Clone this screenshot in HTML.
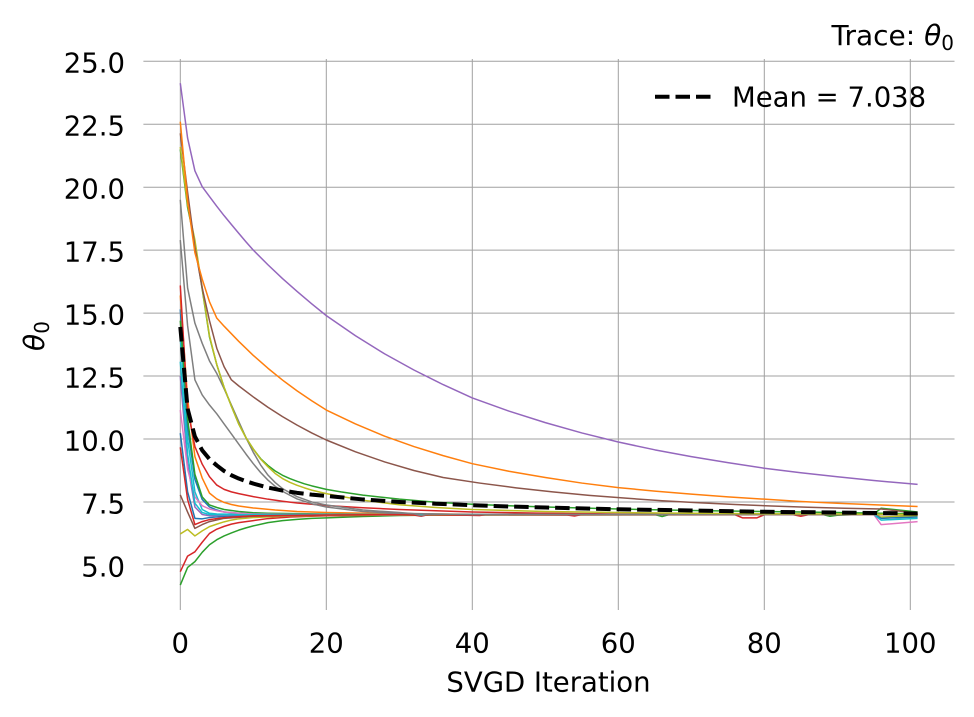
<!DOCTYPE html>
<html>
<head>
<meta charset="utf-8">
<style>
  html, body { margin: 0; padding: 0; background: #ffffff; }
  svg { display: block; }
  text { font-family: "DejaVu Sans", "Liberation Sans", sans-serif; fill: #000; }
</style>
</head>
<body>
<svg width="974" height="717" viewBox="0 0 974 717" xmlns="http://www.w3.org/2000/svg">
  <rect x="0" y="0" width="974" height="717" fill="#ffffff"/>

  <!-- grid -->
  <g stroke="#a0a0a0" stroke-width="1" fill="none">
    <line x1="143.4" y1="564.9" x2="954.5" y2="564.9"/>
    <line x1="143.4" y1="502.0" x2="954.5" y2="502.0"/>
    <line x1="143.4" y1="439.0" x2="954.5" y2="439.0"/>
    <line x1="143.4" y1="376.05" x2="954.5" y2="376.05"/>
    <line x1="143.4" y1="313.1" x2="954.5" y2="313.1"/>
    <line x1="143.4" y1="250.15" x2="954.5" y2="250.15"/>
    <line x1="143.4" y1="187.2" x2="954.5" y2="187.2"/>
    <line x1="143.4" y1="124.25" x2="954.5" y2="124.25"/>
    <line x1="143.4" y1="61.3" x2="954.5" y2="61.3"/>
    <line x1="180.3" y1="59" x2="180.3" y2="610"/>
    <line x1="326.3" y1="59" x2="326.3" y2="610"/>
    <line x1="472.3" y1="59" x2="472.3" y2="610"/>
    <line x1="618.3" y1="59" x2="618.3" y2="610"/>
    <line x1="764.3" y1="59" x2="764.3" y2="610"/>
    <line x1="910.3" y1="59" x2="910.3" y2="610"/>
  </g>

  <!-- particle traces (data coordinates) -->
  <g transform="matrix(7.3 0 0 -25.18 180.3 690.8)" fill="none" stroke-width="1.5" stroke-linejoin="round">
    <!-- lower particles -->
    <polyline vector-effect="non-scaling-stroke" stroke="#2ca02c" points="0,4.2 1,4.9 2,5.13 3,5.5 4,5.8 5,6.0 6,6.15 7,6.27 8,6.38 9,6.47 10,6.55 12,6.68 14,6.76 16,6.81 18,6.85 20,6.87 25,6.92 30,6.96 40,6.99 101,7.0"/>
    <polyline vector-effect="non-scaling-stroke" stroke="#d62728" points="0,4.73 1,5.35 2,5.52 3,5.9 4,6.25 5,6.42 6,6.53 7,6.62 8,6.68 10,6.76 12,6.84 15,6.9 20,6.95 30,6.98 101,7.0"/>
    <polyline vector-effect="non-scaling-stroke" stroke="#bcbd22" points="0,6.23 1,6.41 2,6.15 3,6.35 4,6.52 5,6.62 6,6.71 7,6.78 8,6.83 10,6.88 15,6.94 20,6.97 95,7.0 96,6.9 101,6.95"/>
    <polyline vector-effect="non-scaling-stroke" stroke="#8c564b" points="0,7.78 1,7.1 2,6.45 3,6.6 4,6.72 6,6.85 10,6.93 20,6.98 101,7.0"/>

    <!-- fast-converging cluster -->
    <polyline vector-effect="non-scaling-stroke" stroke="#1f77b4" points="0,10.23 1,7.9 2,6.85 3,6.83 4,6.88 6,6.93 10,6.97 20,6.99 101,7.0"/>
    <polyline vector-effect="non-scaling-stroke" stroke="#9467bd" points="0,12.5 1,9.0 2,7.3 3,7.0 4,6.95 6,6.97 10,7.0 101,7.0"/>
    <polyline vector-effect="non-scaling-stroke" stroke="#17becf" points="0,14.0 1,10.0 2,7.9 3,7.2 4,7.05 5,7.02 10,7.0 101,7.0"/>
    <polyline vector-effect="non-scaling-stroke" stroke="#1f77b4" points="0,15.15 1,10.5 2,8.4 3,7.6 4,7.3 5,7.18 6,7.1 8,7.05 10,7.02 20,7.0 95,7.0 96,6.85 101,6.9"/>
    <polyline vector-effect="non-scaling-stroke" stroke="#ff7f0e" points="0,15.7 1,11.6 2,9.3 3,8.45 4,7.85 5,7.62 6,7.48 7,7.4 8,7.34 10,7.26 13,7.18 16,7.12 20,7.08 30,7.03 40,7.01 101,7.0"/>
    <polyline vector-effect="non-scaling-stroke" stroke="#2ca02c" points="0,14.7 1,10.8 2,8.6 3,7.7 4,7.38 5,7.28 6,7.2 8,7.12 10,7.07 12,7.05 20,7.02 30,7.0 50,7.01 65,7.0 66,6.92 67,7.0 88,7.0 89,6.93 90,6.97 95,7.02 96,7.25 101,7.1"/>
    <polyline vector-effect="non-scaling-stroke" stroke="#e377c2" points="0,11.15 1,8.8 2,7.7 3,7.35 4,7.22 5,7.15 6,7.1 8,7.05 10,7.02 20,7.0 95,7.0 96,6.6 101,6.72"/>
    <polyline vector-effect="non-scaling-stroke" stroke="#17becf" points="0,13.07 1,9.4 2,7.45 3,7.08 4,7.0 6,6.99 10,7.0 95,7.0 96,6.78 101,6.85"/>
    <polyline vector-effect="non-scaling-stroke" stroke="#d62728" points="0,9.67 1,7.6 2,6.6 3,6.72 4,6.8 6,6.88 10,6.95 20,6.98 30,7.0 32,6.98 33,6.93 34,7.0 41,6.96 42,7.0 53,6.98 54,6.94 55,7.0 84,6.99 85,6.93 86,6.99 101,7.0"/>
    <polyline vector-effect="non-scaling-stroke" stroke="#d62728" points="0,16.1 1,11.2 2,9.7 3,9.0 4,8.5 5,8.17 6,8.0 7,7.9 8,7.83 10,7.71 12,7.61 14,7.53 16,7.46 18,7.41 20,7.36 25,7.27 30,7.2 35,7.15 40,7.1 50,7.05 60,7.02 70,7.0 76,6.99 77,6.87 79,6.87 80,6.99 101,7.0"/>

    <!-- slow particles -->
    <polyline vector-effect="non-scaling-stroke" stroke="#7f7f7f" points="0,17.9 1,14.5 2,12.35 3,11.75 4,11.35 5,11.0 6,10.6 7,10.2 8,9.8 9,9.4 10,9.02 11,8.67 12,8.37 13,8.12 14,7.92 16,7.62 18,7.43 20,7.3 25,7.12 30,7.05 35,7.02 40,7.0 101,7.0"/>
    <polyline vector-effect="non-scaling-stroke" stroke="#7f7f7f" points="0,19.5 1,16.0 2,14.6 3,13.8 4,13.1 5,12.6 6,12.0 7,11.35 8,10.7 9,10.05 10,9.47 11,8.97 12,8.57 13,8.27 14,8.03 16,7.71 18,7.5 20,7.38 25,7.18 30,7.08 32,7.03 33,6.95 34,7.02 40,7.0 101,7.0"/>
    <polyline vector-effect="non-scaling-stroke" stroke="#2ca02c" points="0,21.5 1,19.2 2,17.8 3,15.95 4,14.05 5,12.95 6,12.05 7,11.3 8,10.6 9,10.05 10,9.6 11,9.22 12,8.95 13,8.73 14,8.56 15,8.43 16,8.32 17,8.22 18,8.14 20,8.0 22,7.9 25,7.77 30,7.61 35,7.49 40,7.41 45,7.35 50,7.3 60,7.22 70,7.16 80,7.12 90,7.08 96,7.05 101,7.03"/>
    <polyline vector-effect="non-scaling-stroke" stroke="#bcbd22" points="0,21.6 1,19.3 2,17.9 3,16.0 4,14.1 5,12.95 6,12.05 7,11.3 8,10.6 9,10.05 10,9.6 11,9.2 12,8.9 13,8.63 14,8.43 15,8.28 16,8.16 17,8.06 18,7.97 20,7.83 22,7.72 25,7.57 30,7.39 35,7.28 40,7.2 50,7.12 60,7.08 70,7.05 80,7.03 90,7.02 101,7.0"/>
    <polyline vector-effect="non-scaling-stroke" stroke="#8c564b" points="0,22.14 1,19.8 2,17.6 3,16.0 4,14.7 5,13.6 6,12.87 7,12.35 8,12.11 10,11.67 12,11.26 14,10.89 16,10.55 18,10.24 20,9.96 24,9.49 28,9.09 32,8.75 36,8.47 41,8.25 46,8.06 51,7.9 56,7.76 61,7.65 66,7.55 71,7.47 76,7.4 81,7.34 86,7.29 91,7.25 96,7.22 101,7.05"/>
    <polyline vector-effect="non-scaling-stroke" stroke="#ff7f0e" points="0,22.6 1,19.45 2,17.4 3,16.35 4,15.45 5,14.8 6,14.48 8,13.88 10,13.32 12,12.81 14,12.34 16,11.91 18,11.52 20,11.15 24,10.6 28,10.11 32,9.7 36,9.34 40,9.02 45,8.72 50,8.47 55,8.25 60,8.07 65,7.93 70,7.81 75,7.7 80,7.61 85,7.52 90,7.45 95,7.39 101,7.32"/>
    <polyline vector-effect="non-scaling-stroke" stroke="#9467bd" points="0,24.13 1,21.95 2,20.65 3,20.02 4,19.63 5,19.24 6,18.87 7,18.52 8,18.17 9,17.83 10,17.5 12,16.92 14,16.37 16,15.86 18,15.37 20,14.9 24,14.1 28,13.38 32,12.74 36,12.16 40,11.63 45,11.11 50,10.65 55,10.24 60,9.88 65,9.57 70,9.3 75,9.06 80,8.84 85,8.66 90,8.5 95,8.35 101,8.2"/>
  </g>

  <!-- mean line -->
  <polyline fill="none" stroke="#000" stroke-width="4" stroke-dasharray="14.5 6" stroke-linejoin="round"
    points="180.3,326.95 187.6,408.78 194.9,436.48 202.2,450.33 209.5,459.14 216.8,465.44 224.1,470.98 231.4,475.26 238.7,478.53 246.0,481.30 253.3,483.57 267.9,487.54 282.5,490.57 297.1,492.83 311.7,494.59 326.3,495.91 362.8,499.43 399.3,501.95 435.8,503.71 472.3,505.22 508.8,506.48 545.3,507.49 618.3,509.25 691.3,510.51 764.3,511.77 837.3,512.53 917.6,513.53"/>

  <!-- y tick labels -->
  <g font-size="27.5" text-anchor="end">
    <text x="125" y="72.5">25.0</text>
    <text x="125" y="135.5">22.5</text>
    <text x="125" y="198.5">20.0</text>
    <text x="125" y="261.5">17.5</text>
    <text x="125" y="324.5">15.0</text>
    <text x="125" y="387.5">12.5</text>
    <text x="125" y="450.5">10.0</text>
    <text x="125" y="513.5">7.5</text>
    <text x="125" y="576.5">5.0</text>
  </g>

  <!-- x tick labels -->
  <g font-size="27.5" text-anchor="middle">
    <text x="180.3" y="652.5">0</text>
    <text x="326.3" y="652.5">20</text>
    <text x="472.3" y="652.5">40</text>
    <text x="618.3" y="652.5">60</text>
    <text x="764.3" y="652.5">80</text>
    <text x="910.3" y="652.5">100</text>
  </g>

  <!-- axis labels -->
  <text x="548.5" y="691.5" font-size="27.5" text-anchor="middle">SVGD Iteration</text>
  <text transform="translate(44,336) rotate(-90)" font-size="28" text-anchor="middle"><tspan font-style="italic">θ</tspan><tspan font-size="20" dy="5">0</tspan></text>

  <!-- title -->
  <text x="954" y="45" font-size="28" text-anchor="end">Trace: <tspan font-style="italic">θ</tspan><tspan font-size="20" dy="5">0</tspan></text>

  <!-- legend -->
  <line x1="655" y1="96.7" x2="710.5" y2="96.7" stroke="#000" stroke-width="4" stroke-dasharray="14.5 6"/>
  <text x="732" y="106.5" font-size="27.5">Mean = 7.038</text>
</svg>
</body>
</html>
